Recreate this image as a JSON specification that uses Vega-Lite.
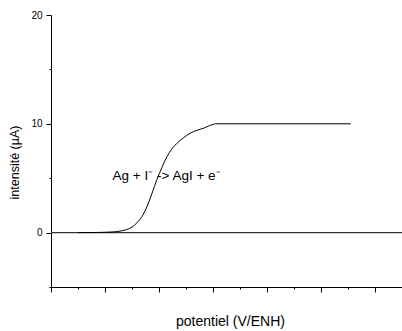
{
  "$schema": "https://vega.github.io/schema/vega-lite/v6.json",
  "width": 351,
  "height": 272,
  "autosize": {"type": "none"},
  "padding": {"left": 51, "top": 15, "right": 0, "bottom": 44},
  "background": "white",
  "config": {
    "view": {"stroke": null},
    "axis": {
      "labelFont": "Liberation Sans",
      "labelFontSize": 10,
      "labelColor": "black",
      "titleFont": "Liberation Sans",
      "titleFontSize": 12.5,
      "titleFontWeight": "normal",
      "titleColor": "black",
      "tickColor": "black",
      "domainColor": "black",
      "grid": false
    }
  },
  "datasets": {
    "curve": [
      {"potentiel": 0.5, "intensite": 0},
      {"potentiel": 0.8, "intensite": 0.01},
      {"potentiel": 1.1, "intensite": 0.05},
      {"potentiel": 1.3, "intensite": 0.15},
      {"potentiel": 1.4, "intensite": 0.28},
      {"potentiel": 1.5, "intensite": 0.5},
      {"potentiel": 1.59, "intensite": 0.9},
      {"potentiel": 1.7, "intensite": 1.6},
      {"potentiel": 1.78, "intensite": 2.42},
      {"potentiel": 1.87, "intensite": 3.6},
      {"potentiel": 1.96, "intensite": 4.86},
      {"potentiel": 2.05, "intensite": 5.95},
      {"potentiel": 2.15, "intensite": 7.0},
      {"potentiel": 2.24, "intensite": 7.7},
      {"potentiel": 2.33, "intensite": 8.2},
      {"potentiel": 2.45, "intensite": 8.7},
      {"potentiel": 2.58, "intensite": 9.14},
      {"potentiel": 2.7, "intensite": 9.4},
      {"potentiel": 2.83, "intensite": 9.6},
      {"potentiel": 2.92, "intensite": 9.8},
      {"potentiel": 3.0, "intensite": 9.95},
      {"potentiel": 3.05, "intensite": 10},
      {"potentiel": 5.55, "intensite": 10}
    ],
    "zero": [
      {"potentiel": 0, "intensite": 0},
      {"potentiel": 6.5, "intensite": 0}
    ],
    "label": [
      {"potentiel": 2.14, "intensite": 4.83, "text": "Ag + I⁻ -> AgI + e⁻"}
    ]
  },
  "layer": [
    {
      "data": {"name": "zero"},
      "mark": {"type": "line", "color": "#333333", "strokeWidth": 1.3},
      "encoding": {
        "x": {
          "field": "potentiel", "type": "quantitative",
          "scale": {"domain": [0, 6.5], "nice": false, "zero": false},
          "axis": {"orient": "bottom", "values": [0, 1, 2, 3, 4, 5, 6], "labels": false, "tickSize": 5, "title": "potentiel (V/ENH)", "titleFontSize": 14, "titlePadding": 22, "titleX": 179}
        },
        "y": {
          "field": "intensite", "type": "quantitative",
          "scale": {"domain": [-5, 20], "nice": false, "zero": false},
          "axis": {"orient": "left", "values": [0, 10, 20], "tickSize": 5, "labelPadding": 4, "title": "intensité (µA)", "titlePadding": 9, "titleY": 147}
        }
      }
    },
    {
      "data": {"name": "zero"},
      "mark": {"type": "point", "opacity": 0},
      "encoding": {
        "x": {
          "field": "potentiel", "type": "quantitative",
          "axis": {"orient": "bottom", "values": [0.5, 1.5, 2.5, 3.5, 4.5, 5.5, 6.5], "labels": false, "tickSize": 2, "title": null, "domain": false}
        },
        "y": {
          "field": "intensite", "type": "quantitative",
          "axis": {"orient": "left", "values": [-5, 5, 15], "labels": false, "tickSize": 2, "title": null, "domain": false}
        }
      }
    },
    {
      "data": {"name": "curve"},
      "mark": {"type": "line", "color": "black", "strokeWidth": 1, "interpolate": "monotone"},
      "encoding": {
        "x": {"field": "potentiel", "type": "quantitative", "axis": null},
        "y": {"field": "intensite", "type": "quantitative", "axis": null}
      }
    },
    {
      "data": {"name": "label"},
      "mark": {"type": "text", "font": "Liberation Sans", "fontSize": 13.5, "color": "black", "align": "center", "baseline": "alphabetic"},
      "encoding": {
        "x": {"field": "potentiel", "type": "quantitative", "axis": null},
        "y": {"field": "intensite", "type": "quantitative", "axis": null},
        "text": {"field": "text"}
      }
    }
  ],
  "resolve": {"axis": {"x": "independent", "y": "independent"}}
}
